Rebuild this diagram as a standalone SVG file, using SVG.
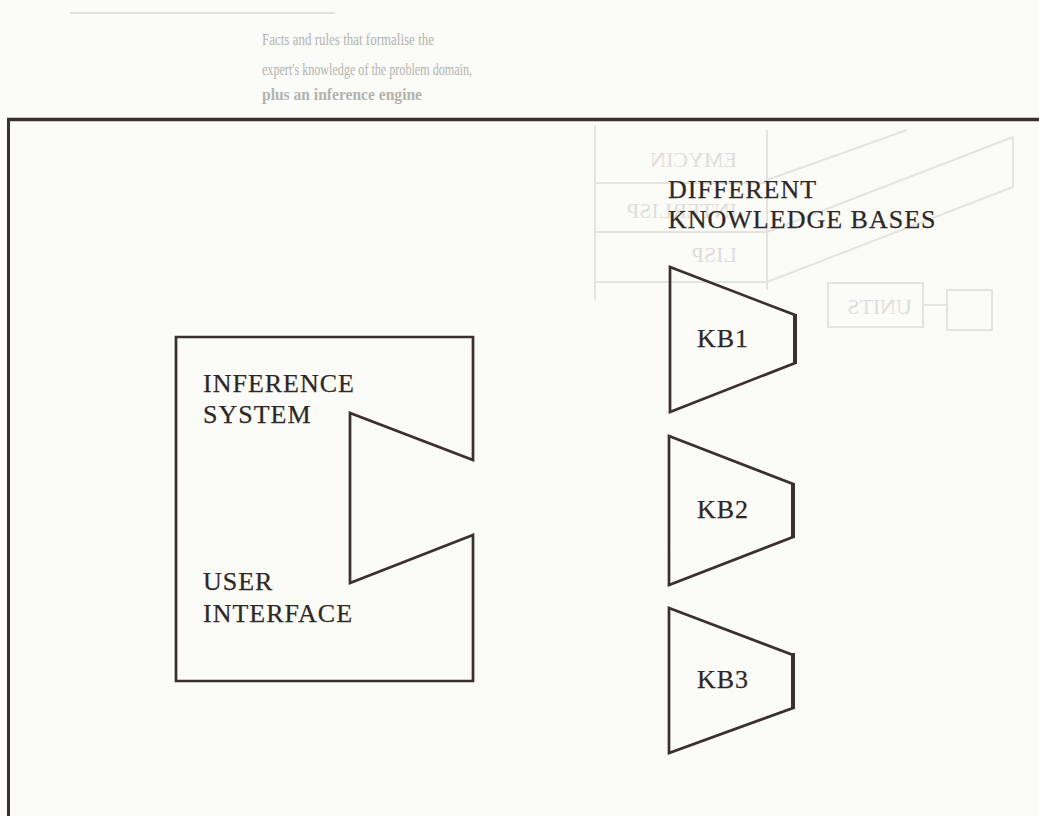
<svg xmlns="http://www.w3.org/2000/svg" width="1039" height="816" viewBox="0 0 1039 816">
  <defs>
    <style>
      .ink { fill: none; stroke: #3a302d; stroke-width: 2.7; stroke-linejoin: miter; }
      .edge { stroke: #3a302d; stroke-width: 4; }
      .label { font-family: "Liberation Serif", "Times New Roman", serif; font-size: 26px; letter-spacing: 1px; fill: #2e2725; stroke: #2e2725; stroke-width: 0.25; }
      .ghost { fill: none; stroke: #e4e4df; stroke-width: 2; }
      .ghost-text { font-family: "Liberation Serif", "Times New Roman", serif; fill: #b3b3ae; font-size: 17px; }
      .ghost-faint { font-family: "Liberation Serif", "Times New Roman", serif; fill: #dedeD9; font-size: 22px; }
    </style>
  </defs>

  <!-- paper -->
  <rect x="0" y="0" width="1039" height="816" fill="#fbfbf8"/>

  <!-- show-through from the facing page -->
  <g id="show-through">
    <line class="ghost" x1="70" y1="13" x2="335" y2="13"/>
    <text class="ghost-text" x="262" y="45" textLength="172" lengthAdjust="spacingAndGlyphs">Facts and rules that formalise the</text>
    <text class="ghost-text" x="262" y="75" textLength="210" lengthAdjust="spacingAndGlyphs">expert's knowledge of the problem domain,</text>
    <text class="ghost-text" x="262" y="100" textLength="160" lengthAdjust="spacingAndGlyphs" font-weight="bold" fill="#a6a6a1">plus an inference engine</text>
    <!-- mirrored table -->
    <line class="ghost" x1="595" y1="125" x2="595" y2="300"/>
    <line class="ghost" x1="767" y1="130" x2="767" y2="290"/>
    <line class="ghost" x1="595" y1="183" x2="767" y2="183"/>
    <line class="ghost" x1="595" y1="232" x2="767" y2="232"/>
    <line class="ghost" x1="595" y1="282" x2="767" y2="282"/>
    <line class="ghost" x1="767" y1="180" x2="907" y2="130"/>
    <line class="ghost" x1="767" y1="232" x2="1013" y2="137"/>
    <line class="ghost" x1="767" y1="282" x2="1013" y2="187"/>
    <line class="ghost" x1="1013" y1="137" x2="1013" y2="187"/>
    <rect class="ghost" x="828" y="283" width="95" height="44"/>
    <line class="ghost" x1="923" y1="305" x2="947" y2="305"/>
    <rect class="ghost" x="947" y="290" width="45" height="40"/>
    <g transform="translate(1474,0) scale(-1,1)">
      <text class="ghost-faint" x="737" y="167">EMYCIN</text>
      <text class="ghost-faint" x="737" y="218">INTERLISP</text>
      <text class="ghost-faint" x="737" y="262">LISP</text>
    </g>
    <text class="ghost-faint" transform="translate(1750,0) scale(-1,1)" x="838" y="314" font-size="18">UNITS</text>
  </g>

  <!-- outer frame -->
  <g id="frame">
    <line x1="7" y1="119.5" x2="1039" y2="119.5" stroke="#3a302d" stroke-width="3.5"/>
    <line x1="8.5" y1="118" x2="8.5" y2="816" stroke="#3a302d" stroke-width="3"/>
  </g>

  <!-- inference system / user interface shell with socket -->
  <g id="shell">
    <path class="ink" d="M176,337 L473,337 L473,460 L350,413 L350,583 L473,535 L473,681 L176,681 Z"/>
    <text class="label" x="203" y="392">INFERENCE</text>
    <text class="label" x="203" y="423">SYSTEM</text>
    <text class="label" x="203" y="590">USER</text>
    <text class="label" x="203" y="622">INTERFACE</text>
  </g>

  <g id="kb-title">
    <text class="label" x="668" y="198">DIFFERENT</text>
    <text class="label" x="668" y="228">KNOWLEDGE BASES</text>
  </g>

  <g id="kb1">
    <path class="ink" d="M670,267 L795,315 L795,363 L670,412 Z"/>
    <line class="edge" x1="795" y1="314" x2="795" y2="364"/>
    <text class="label" x="697" y="347">KB1</text>
  </g>

  <g id="kb2">
    <path class="ink" d="M669,436 L793,484 L793,537 L669,585 Z"/>
    <line class="edge" x1="793" y1="483" x2="793" y2="538"/>
    <text class="label" x="697" y="518">KB2</text>
  </g>

  <g id="kb3">
    <path class="ink" d="M669,608 L793,655 L793,708 L669,753 Z"/>
    <line class="edge" x1="793" y1="653" x2="793" y2="709"/>
    <text class="label" x="697" y="688">KB3</text>
  </g>

  <g id="connectors"></g>
</svg>
